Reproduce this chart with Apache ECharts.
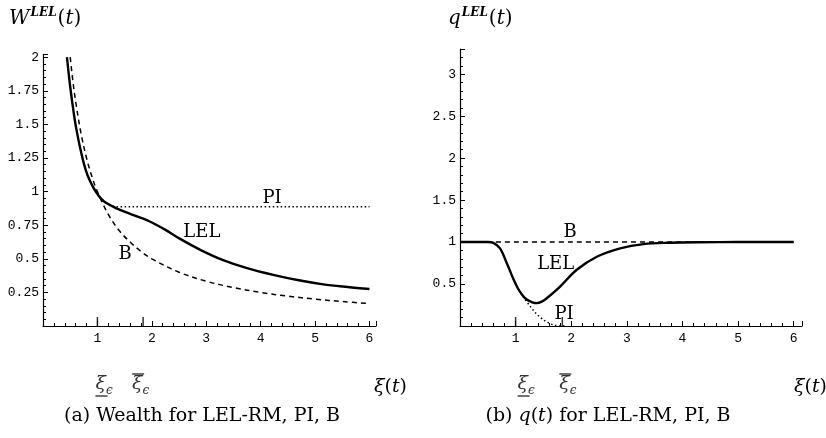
<!DOCTYPE html>
<html>
<head>
<meta charset="utf-8">
<script src="https://cdn.jsdelivr.net/npm/echarts@6/dist/echarts.min.js"></script>
<style>
  html, body { margin: 0; padding: 0; background: #fff; }
  #chart { width: 826px; height: 438px; }
</style>
</head>
<body>
<div id="chart"></div>
<script>
// (a) wealth
var wX_LEL = [0.44, 0.5, 0.575, 0.62, 0.68, 0.75, 0.82, 0.9, 0.97, 1.05, 1.15, 1.35, 1.6, 1.8, 2.0, 2.25, 2.52, 2.9, 3.31, 3.75, 4.23, 4.7, 5.15, 5.6, 6.0]
var wY_LEL = [2.0, 1.78, 1.557, 1.45, 1.33, 1.21, 1.12, 1.05, 1.0, 0.955, 0.918, 0.875, 0.835, 0.805, 0.77, 0.715, 0.648, 0.565, 0.49, 0.43, 0.38, 0.34, 0.31, 0.29, 0.275]
var wX_PI = [1.0, 1.1, 1.2, 1.3, 1.4, 2, 3, 4, 5, 6]
var wY_PI = [0.985, 0.935, 0.905, 0.89, 0.887, 0.887, 0.887, 0.887, 0.887, 0.887]
var wX_B = [0.5, 0.55, 0.6, 0.7, 0.8, 0.9, 1.0, 1.2, 1.4, 1.6, 1.8, 2.0, 2.5, 3.0, 3.5, 4.0, 4.5, 5.0, 5.5, 6.0]
var wY_B = [2.0, 1.82, 1.67, 1.43, 1.25, 1.11, 1.0, 0.83, 0.71, 0.625, 0.555, 0.5, 0.4, 0.333, 0.286, 0.25, 0.222, 0.2, 0.182, 0.167]

// (b) q(t)
var qX_LEL = [0, 0.5, 0.6, 0.72, 0.84, 0.96, 1.04, 1.12, 1.2, 1.3, 1.38, 1.47, 1.56, 1.8, 2.1, 2.46, 2.88, 3.3, 3.78, 4.3, 5, 6]
var qY_LEL = [1, 1, 0.99, 0.925, 0.75, 0.56, 0.45, 0.37, 0.315, 0.282, 0.272, 0.29, 0.33, 0.47, 0.67, 0.825, 0.925, 0.976, 0.992, 0.998, 1, 1]
var qX_PI = [0.96, 1.04, 1.12, 1.2, 1.28, 1.36, 1.44, 1.53, 1.62, 1.7, 1.8, 1.9]
var qY_PI = [0.56, 0.45, 0.365, 0.29, 0.22, 0.155, 0.105, 0.06, 0.028, 0.01, 0, 0]
var qX_B = [0, 6]
var qY_B = [1, 1]

// special ticks xi_eps (lower / upper)
var xiTicks = [1.0, 1.84]

// curve labels [x, y, text]
var wLabels = [[4.21, 0.95, 'PI'], [2.92, 0.7, 'LEL'], [1.51, 0.53, 'B']]
var qLabels = [[1.98, 1.11, 'B'], [1.72, 0.73, 'LEL'], [1.87, 0.14, 'PI']]

function pairs (xs, ys) {
  var out = []
  for (var i = 0; i < xs.length; i++) out.push([xs[i], ys[i]])
  return out
}

var serif = 'DejaVu Serif'
var mono = 'Liberation Mono'

function lineSeries (idx, xs, ys, type, width) {
  return {
    type: 'line',
    xAxisIndex: idx,
    yAxisIndex: idx,
    data: pairs(xs, ys),
    showSymbol: false,
    smooth: 0.35,
    silent: true,
    lineStyle: { color: '#000', width: width, type: type }
  }
}

function labelSeries (idx, arr) {
  return {
    type: 'scatter',
    xAxisIndex: idx,
    yAxisIndex: idx,
    symbolSize: 1,
    silent: true,
    itemStyle: { opacity: 0 },
    data: arr.map(function (d) { return { value: [d[0], d[1]], name: d[2] } }),
    label: {
      show: true,
      position: 'inside',
      formatter: '{b}',
      color: '#000',
      opacity: 1,
      fontFamily: serif,
      fontSize: 18
    }
  }
}

var xiRich = {
  bar: { width: 11, height: 1.4, lineHeight: 4, backgroundColor: '#000', fontSize: 1, padding: [0, 0, 0, 1] },
  x: { fontFamily: serif, fontStyle: 'italic', fontSize: 19, lineHeight: 18, color: '#000', verticalAlign: 'bottom' },
  e: { fontFamily: serif, fontStyle: 'italic', fontSize: 12, lineHeight: 18, color: '#000', verticalAlign: 'bottom', padding: [0, 0, -3, 0] }
}

function tickSeries (idx, offs) {
  return {
    type: 'scatter',
    xAxisIndex: idx,
    yAxisIndex: idx,
    symbol: 'rect',
    symbolSize: [1.5, 9],
    symbolOffset: [0, -4.5],
    silent: true,
    itemStyle: { color: '#000' },
    data: xiTicks.map(function (v, i) {
      return { value: [v, 0], name: i === 0 ? 'lo' : 'hi', label: { offset: [offs[i], i === 0 ? 4 : 0] } }
    }),
    label: {
      show: true,
      position: 'bottom',
      distance: 46,
      align: 'left',
      formatter: function (p) {
        return p.name === 'lo' ? '{x|ξ}{e|ϵ}\n{bar| }' : '{bar| }\n{x|ξ}{e|ϵ}'
      },
      rich: xiRich
    }
  }
}

function xAxisOpt (idx, max) {
  return {
    type: 'value',
    gridIndex: idx,
    min: 0,
    max: max,
    interval: 1,
    splitLine: { show: false },
    axisLine: { lineStyle: { color: '#000', width: 1.2 } },
    axisTick: { inside: true, length: 5, lineStyle: { color: '#000' } },
    minorTick: { show: true, splitNumber: 5, length: 3, lineStyle: { color: '#000' } },
    axisLabel: {
      color: '#000',
      fontFamily: mono,
      fontSize: 13,
      margin: 6,
      showMaxLabel: false,
      formatter: function (v) { return (v > 0 && Math.abs(v - Math.round(v)) < 1e-6) ? String(v) : '' }
    }
  }
}

function yAxisOpt (idx, max, step) {
  return {
    type: 'value',
    gridIndex: idx,
    min: 0,
    max: max,
    interval: step,
    splitLine: { show: false },
    axisLine: { show: true, lineStyle: { color: '#000', width: 1.2 } },
    axisTick: { show: true, inside: true, length: 5, lineStyle: { color: '#000' } },
    minorTick: { show: true, splitNumber: 5, length: 3, lineStyle: { color: '#000' } },
    axisLabel: {
      color: '#000',
      fontFamily: mono,
      fontSize: 13,
      margin: 4,
      showMaxLabel: false,
      formatter: function (v) {
        var k = v / step
        return (v > 0 && Math.abs(k - Math.round(k)) < 1e-6) ? String(v) : ''
      }
    }
  }
}

var titleRich = {
  w: { fontFamily: serif, fontStyle: 'italic', fontWeight: 'normal', fontSize: 20, color: '#000', verticalAlign: 'bottom' },
  s: { fontFamily: serif, fontStyle: 'italic', fontWeight: 'bold', fontSize: 12, color: '#000', verticalAlign: 'top', padding: [0, 1, 10, 1] },
  p: { fontFamily: serif, fontWeight: 'normal', fontSize: 20, color: '#000', verticalAlign: 'bottom' },
  i: { fontFamily: serif, fontStyle: 'italic', fontWeight: 'normal', fontSize: 20, color: '#000', verticalAlign: 'bottom' }
}
var xiTRich = {
  p: { fontFamily: serif, fontWeight: 'normal', fontSize: 19, color: '#000' },
  i: { fontFamily: serif, fontStyle: 'italic', fontWeight: 'normal', fontSize: 19, color: '#000' }
}
var capRich = {
  r: { fontFamily: serif, fontWeight: 'normal', fontSize: 19, color: '#000' },
  i: { fontFamily: serif, fontStyle: 'italic', fontWeight: 'normal', fontSize: 19, color: '#000' }
}

var chart = echarts.init(document.getElementById('chart'))
chart.setOption({
  backgroundColor: '#fff',
  animation: false,
  title: [
    { text: '{w|W}{s|LEL}{p|(}{i|t}{p|)}', left: 4, top: 2, textStyle: { rich: titleRich } },
    { text: '{i|q}{s|LEL}{p|(}{i|t}{p|)}', left: 443, top: 2, textStyle: { rich: titleRich } },
    { text: '{i|ξ}{p|(}{i|t}{p|)}', left: 369, top: 373, textStyle: { rich: xiTRich } },
    { text: '{i|ξ}{p|(}{i|t}{p|)}', left: 789, top: 373, textStyle: { rich: xiTRich } },
    { text: '{r|(a) Wealth for LEL-RM, PI, B}', left: 197, top: 402, textAlign: 'center', textStyle: { rich: capRich } },
    { text: '{r|(b) }{i|q}{r|(}{i|t}{r|) for LEL-RM, PI, B}', left: 603, top: 402, textAlign: 'center', textStyle: { rich: capRich } }
  ],
  grid: [
    { left: 43, top: 54.5, width: 333, height: 271.5 },
    { left: 460, top: 49, width: 342, height: 277 }
  ],
  xAxis: [xAxisOpt(0, 6.12), xAxisOpt(1, 6.15)],
  yAxis: [yAxisOpt(0, 2.02, 0.25), yAxisOpt(1, 3.3, 0.5)],
  series: [
    lineSeries(0, wX_PI, wY_PI, [1.5, 2.5], 1.5),
    lineSeries(0, wX_B, wY_B, [5, 4], 1.5),
    lineSeries(0, wX_LEL, wY_LEL, 'solid', 2.4),
    labelSeries(0, wLabels),
    tickSeries(0, [-2, -11]),
    lineSeries(1, qX_PI, qY_PI, [1.5, 2.5], 1.5),
    lineSeries(1, qX_B, qY_B, [5, 4], 1.5),
    lineSeries(1, qX_LEL, qY_LEL, 'solid', 2.4),
    labelSeries(1, qLabels),
    tickSeries(1, [2, -3])
  ]
})
</script>
</body>
</html>
